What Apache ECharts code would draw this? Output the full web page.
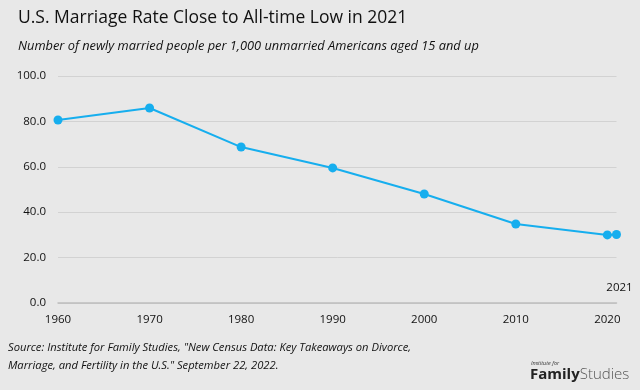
<!DOCTYPE html>
<html><head><meta charset="utf-8">
<script src="https://cdn.jsdelivr.net/npm/echarts@6/dist/echarts.min.js"></script>
<style>html,body{margin:0;padding:0;background:#fff}#c{width:640px;height:390px}</style>
</head><body><div id="c"></div>
<script>
var years = [1960, 1970, 1980, 1990, 2000, 2010, 2020, 2021];
var rates = [80.6, 85.9, 68.7, 59.5, 48.0, 34.8, 30.0, 30.2];
var yTicks = ['0.0', '20.0', '40.0', '60.0', '80.0', '100.0'];
var titleText = 'U.S. Marriage Rate Close to All-time Low in 2021';
var subtitleText = 'Number of newly married people per 1,000 unmarried Americans aged 15 and up';
var sourceLines = ['Source: Institute for Family Studies, "New Census Data: Key Takeaways on Divorce,', 'Marriage, and Fertility in the U.S." September 22, 2022.'];
var endLabel = '2021';

var font = 'Open Sans';
var chart = echarts.init(document.getElementById('c'));
chart.setOption({
  backgroundColor: '#e8e8e8',
  animation: false,
  grid: {left: 58, right: 23.5, top: 76, bottom: 87, containLabel: false},
  graphic: [
    {type: 'text', left: 18, top: 9, style: {text: titleText, font: '17.5px "' + font + '"', fill: '#111'}},
    {type: 'text', left: 18, top: 40, style: {text: subtitleText, font: 'italic 12.8px "' + font + '"', fill: '#111'}},
    {type: 'text', left: 8, top: 339, style: {text: sourceLines.join('\n'), font: 'italic 11.2px "' + font + '"', lineHeight: 18, fill: '#111'}},
    {type: 'text', left: 531, top: 360, style: {text: 'Institute for', font: 'italic 5.5px "' + font + '"', fill: '#333'}},
    {type: 'text', left: 530, top: 367, style: {rich: {a: {font: 'bold 15px "' + font + '"', fill: '#222'}, b: {font: '300 15px "' + font + '"', fill: '#555'}}, text: '{a|Family}{b|Studies}'}}
  ],
  xAxis: {
    type: 'value', min: 1960, max: 2021, interval: 10,
    axisLine: {show: true, lineStyle: {color: '#bdbdbd', width: 1.5}},
    axisTick: {show: false},
    splitLine: {show: false},
    axisLabel: {showMaxLabel: false, color: '#111', fontFamily: font, fontSize: 11.5, margin: 11,
      formatter: function (v) { return v % 10 === 0 ? String(v) : ''; }}
  },
  yAxis: {
    type: 'value', min: 0, max: 100, interval: 20,
    axisLine: {show: false}, axisTick: {show: false},
    splitLine: {lineStyle: {color: '#d2d2d2', width: 1}},
    axisLabel: {color: '#111', fontFamily: font, fontSize: 11.5, margin: 12,
      formatter: function (v) { return yTicks[Math.round(v / 20)]; }}
  },
  series: [{
    type: 'line',
    data: years.map(function (y, i) {
      var item = {value: [y, rates[i]]};
      if (i === years.length - 1) {
        item.label = {show: true, formatter: endLabel, position: 'bottom', offset: [3, 38],
          color: '#111', fontFamily: font, fontSize: 11.5};
      }
      return item;
    }),
    symbol: 'circle', symbolSize: 9,
    lineStyle: {color: '#16aeee', width: 2},
    itemStyle: {color: '#16aeee'}
  }]
});
</script></body></html>
